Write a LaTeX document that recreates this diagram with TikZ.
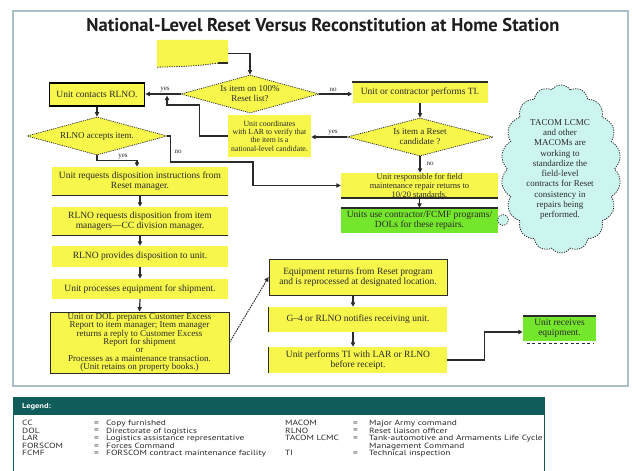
\documentclass[tikz,border=0pt]{standalone}
\usepackage{graphicx}
\usepackage{fontspec}
\setmainfont{Liberation Serif}
\newfontfamily\ptsans{PT Sans}
\usetikzlibrary{shapes.geometric,shapes.symbols,arrows.meta,calc}
\definecolor{yel}{HTML}{F6F64B}
\definecolor{grn}{HTML}{74E62C}
\definecolor{cyanc}{HTML}{CCF5F0}
\definecolor{framec}{HTML}{A9BEC6}
\definecolor{tealc}{HTML}{0F5C5A}
\definecolor{linec}{HTML}{2B2B2B}
\definecolor{titlec}{HTML}{1E1E1E}
\newcommand\legcol[1]{\scalebox{1}[0.8]{\begin{tabular}{@{}l@{}}#1\end{tabular}}}
\begin{document}
\begin{tikzpicture}[x=1pt,y=-1pt,
  box/.style={rectangle, fill=yel, inner sep=0, align=center, text=linec,
    font=\fontsize{9.5}{10.5}\selectfont},
  gbox/.style={box, fill=grn},
  dia/.style={diamond, fill=yel, draw=linec, dash pattern=on 1.2pt off 1pt,
    line width=0.7, inner sep=0, align=center, text=linec,
    font=\fontsize{9}{10}\selectfont},
  arr/.style={draw=linec, line width=1.2, -{Triangle[length=4.5pt,width=4.2pt]}},
  dotarr/.style={draw=linec, line width=1, dash pattern=on 1.5pt off 1pt,
    -{Triangle[length=4.5pt,width=4.2pt]}},
  lbl/.style={font=\fontsize{7}{7}\selectfont, text=linec, inner sep=0},
  edge/.style={draw=linec, line width=#1},
  edge/.default=1,
  legtxt/.style={font=\ptsans\fontsize{9.4}{9.4}\selectfont, text=linec, inner sep=0, anchor=north west}
]
\useasboundingbox (0,0) rectangle (632,471);
\fill[white] (0,0) rectangle (632,471);
% outer frame
\draw[framec, line width=2] (13,11) rectangle (628,386);
% title
\node[font=\ptsans\bfseries, text=titlec, inner sep=0] (title) at (323,25)
  {\resizebox{473pt}{!}{National-Level Reset Versus Reconstitution at Home Station}};

% top empty box
\node[rectangle, minimum width=71, minimum height=27, inner sep=0] (top) at (192.5,53.5) {};
\fill[yel] (top.north west) -- (top.north east) -- ($(top.south east)+(0,-4)$)
  -- ($(top.south east)+(-10,-4)$) .. controls ($(top.south)+(0,-1)$) .. (top.south west) -- cycle;
\draw[linec, line width=0.8, dash pattern=on 1.2pt off 1.2pt] ($(top.south east)+(-10,-4)$)
  .. controls ($(top.south)+(0,-1)$) .. (top.south west);
\draw[linec, line width=1.6] ($(top.south east)+(0,-4)$) -- ($(top.south east)+(-10,-4)$);

% diamonds
\node[dia, shape aspect=3.6, minimum width=138, minimum height=38] (d1) at (250,94) {Is item on 100\%\\Reset list?};
\node[dia, shape aspect=3.8, minimum width=146, minimum height=38] (d2) at (420,137) {Is item a Reset\\candidate ?};
\node[dia, shape aspect=3.7, minimum width=140, minimum height=38] (d3) at (97,136) {RLNO accepts item.};

% boxes
\node[box, draw=black, line width=1.6, minimum width=95, minimum height=23] (contact) at (97,94.5) {Unit contacts RLNO.};
\node[box, minimum width=135, minimum height=21] (ti) at (420,92.5) {Unit or contractor performs TI.};
\draw[edge=2.5] (ti.north west) -- (ti.north east);
\node[box, minimum width=83, minimum height=42, font=\fontsize{7.8}{8.3}\selectfont] (lar) at (269.5,136)
  {Unit coordinates\\with LAR to verify that\\the item is a\\national-level candidate.};
\node[box, minimum width=157, minimum height=25, font=\fontsize{8.5}{9}\selectfont] (resp) at (419.5,185.5)
  {Unit responsible for field\\maintenance repair returns to\\10/20 standards.};
\draw[edge=2] (resp.south west) -- (resp.south east);
\node[gbox, minimum width=157, minimum height=25, font=\fontsize{9.5}{10}\selectfont] (units) at (419.5,220.5)
  {Units use contractor/FCMF programs/\\DOLs for these repairs.};
\draw[edge=1.5] (units.north west) -- (units.north east);

\node[box, minimum width=176, minimum height=28] (req) at (140,181) {Unit requests disposition instructions from\\Reset manager.};
\draw[edge=1] (req.south west) -- (req.south east);
\node[box, minimum width=176, minimum height=28] (rreq) at (140,221) {RLNO requests disposition from item\\managers—CC division manager.};
\draw[edge=1] (rreq.south west) -- (rreq.south east);
\node[box, minimum width=176, minimum height=21] (prov) at (140,256.5) {RLNO provides disposition to unit.};
\node[box, minimum width=176, minimum height=20] (proc) at (140,289) {Unit processes equipment for shipment.};
\node[box, draw=linec, line width=0.9, minimum width=179, minimum height=61, font=\fontsize{9}{8.3}\selectfont] (big) at (139.5,342.5)
  {Unit or DOL prepares Customer Excess\\Report to item manager; Item manager\\returns a reply to Customer Excess\\Report for shipment\\or\\Processes as a maintenance transaction.\\(Unit retains on property books.)};

\node[box, draw=linec, line width=0.8, minimum width=178, minimum height=36] (equip) at (358,277)
  {Equipment returns from Reset program\\and is reprocessed at designated location.};
\node[box, minimum width=178, minimum height=25] (g4) at (358,319.5) {G–4 or RLNO notifies receiving unit.};
\draw[edge=0.9] (g4.north west) -- (g4.south west);
\node[box, minimum width=178, minimum height=26] (perf) at (358,360) {Unit performs TI with LAR or RLNO\\before receipt.};
\draw[edge=0.9] (perf.north west) -- (perf.south west);
\node[gbox, minimum width=73, minimum height=25] (recv) at (559.5,328.5) {Unit receives\\equipment.};
\draw[edge=1.6] (recv.north west) -- (recv.north east);
\draw[linec, line width=1, dash pattern=on 3pt off 2.5pt] ($(recv.south west)+(4,2)$) -- ($(recv.south east)+(-3,2)$);

% cloud
\node[circle, minimum size=11, fill=cyanc, draw=linec, line width=0.7, dash pattern=on 1.2pt off 1.2pt, inner sep=0] (bub) at (503,220) {};
\node[cloud, cloud puffs=18, cloud puff arc=110, minimum width=120, minimum height=168,
  fill=cyanc, draw=linec, line width=0.8, dash pattern=on 1.2pt off 1.2pt, inner sep=0] (cloud) at (561,169) {};
\node[align=center, font=\fontsize{9}{10.3}\selectfont, text=linec, inner sep=0] (cloudtxt) at (560,169.5)
  {TACOM LCMC\\and other\\MACOMs are\\working to\\standardize the\\field-level\\contracts for Reset\\consistency in\\repairs being\\performed.};

% connectors
\coordinate (j1) at (167,95.5);
\draw[arr] (top.east) -| (d1.north);
\draw[arr] (d1.west) -- (d1.west -| contact.east);
\node[lbl] (yes1) at (165,89.5) {yes};
\draw[arr] (d1.east) -- (d1.east -| ti.west);
\node[lbl] (no1) at (333,90) {no};
\draw[arr] (ti.south) -- (d2.north);
\draw[arr] (d2.west) -- (d2.west -| lar.east);
\node[lbl] (yes2) at (333,133) {yes};
\draw[arr] (lar.west) -- ++(-28,0) |- (167,105) -- (j1);
\draw[arr] (contact.south) -- (d3.north);
\draw[arr] (d3.south) -- ++(0,5) -| ([xshift=-3]req.north);
\node[lbl] (yes3) at (123,156.5) {yes};
\draw[arr] (d3.east) -- ++(3,0) |- (253,162) |- (resp.west);
\node[lbl] (no3) at (178,152) {no};
\draw[arr] (d2.south) -- (d2.south |- resp.north);
\node[lbl] (no2) at (430,164) {no};
\draw[arr] (resp.south -| units.north) -- (units.north);
\draw[arr] (req.south) -- (rreq.north);
\draw[arr] (rreq.south) -- (prov.north);
\draw[arr] (prov.south) -- (proc.north);
\draw[arr] (proc.south) -- (big.north);
\draw[dotarr] (big.east) -- (equip.west);
\draw[arr] ([xshift=-5]equip.south) -- ([xshift=-5]g4.north);
\draw[arr] ([xshift=-5]g4.south) -- ([xshift=-5]perf.north);
\draw[arr] (perf.east) -- ++(37,0) |- ([yshift=-3.5]recv.west);

% legend
\fill[tealc] (13,397) rectangle (544,415);
\draw[tealc, line width=0.8] (13,397) rectangle (544,476);
\node[font=\ptsans\bfseries\fontsize{8.5}{9}\selectfont, text=white, inner sep=0, anchor=west] (legtitle) at (22,406.5) {\scalebox{1}[0.85]{Legend:}};
\node[legtxt] (la1) at (22,420) {\legcol{CC\\DOL\\LAR\\FORSCOM\\FCMF}};
\node[legtxt] (le1) at (94,420) {\legcol{=\\=\\=\\=\\=}};
\node[legtxt] (ld1) at (106,420) {\legcol{Copy furnished\\Directorate of logistics\\Logistics assistance representative\\Forces Command\\FORSCOM contract maintenance facility}};
\node[legtxt] (la2) at (285,420) {\legcol{MACOM\\RLNO\\TACOM LCMC\\ \\TI}};
\node[legtxt] (le2) at (353,420) {\legcol{=\\=\\=\\ \\=}};
\node[legtxt] (ld2) at (369,420) {\legcol{Major Army command\\Reset liaison officer\\Tank-automotive and Armaments Life Cycle\\Management Command\\Technical inspection}};
\end{tikzpicture}
\end{document}
